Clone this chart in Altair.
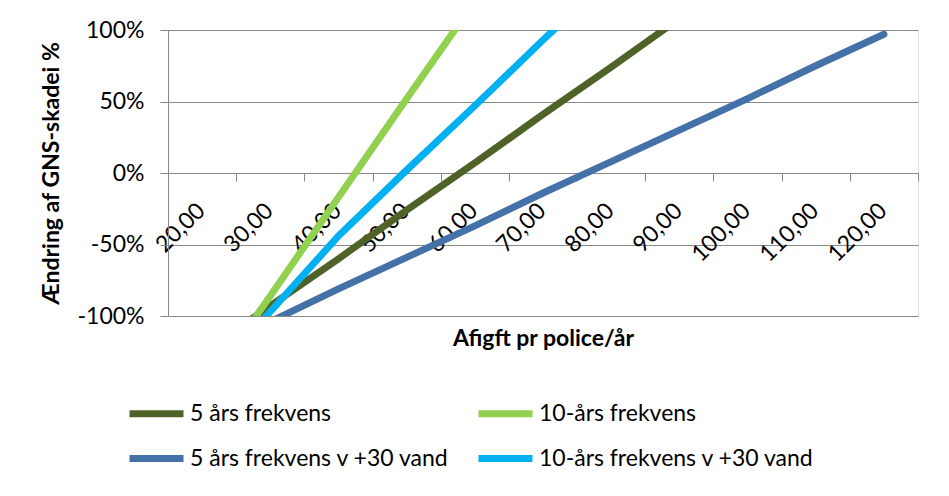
import altair as alt
import pandas as pd

categories = ["20,00", "30,00", "40,00", "50,00", "60,00", "70,00",
              "80,00", "90,00", "100,00", "110,00", "120,00"]

series_names = ["5 års frekvens", "10-års frekvens",
                "5 års frekvens v +30 vand", "10-års frekvens v +30 vand"]
series_colors = ["#4F6228", "#92D050", "#4471A7", "#00B0F0"]

fem_aars = [-126, -93, -60, -26, 7, 41, 74, 108]
ti_aars = [-154, -86, -17, 52, 120]
fem_aars_vand = [-126, -104, -81, -59, -37, -14, 8, 30, 52, 75, 97]
ti_aars_vand = [-150, -97, -44, 2, 47, 93, 138]

y_ticks = [-100, -50, 0, 50, 100]

rows = []
for name, vals in zip(series_names, [fem_aars, ti_aars, fem_aars_vand, ti_aars_vand]):
    for cat, v in zip(categories, vals):
        rows.append({"afgift": cat, "serie": name, "value": v})
df = pd.DataFrame(rows)

FONT = "Lato"
GRID = "#888888"

chart = alt.Chart(df).mark_line(strokeWidth=7, clip=True, strokeCap="round").encode(
    x=alt.X(
        "afgift:O",
        sort=categories,
        bandPosition=0.5,
        scale=alt.Scale(type="band", domain=categories, paddingInner=0, paddingOuter=0),
        axis=alt.Axis(
            title="Afigft pr police/år",
            titleFont=FONT, titleFontSize=23, titleFontWeight="bold", titleColor="black",
            titleX=375, titleY=172, titleAlign="center", titleBaseline="alphabetic",
            labelFont=FONT, labelFontSize=23, labelColor="black",
            labelAngle=-45, labelAlign="right", labelBaseline="top", labelPadding=18,
            labelOffset=-9,
            tickBand="extent", tickSize=8, tickColor=GRID, domainColor=GRID,
            offset=-143, grid=False, labelOverlap=False, zindex=0,
        ),
    ),
    y=alt.Y(
        "value:Q",
        scale=alt.Scale(domain=[-100, 100], nice=False, zero=False),
        axis=alt.Axis(
            title="Ændring af GNS-skadei %",
            titleFont=FONT, titleFontSize=23, titleFontWeight="bold", titleColor="black",
            titleX=-117, titleY=143, titleAngle=-90, titleAlign="center", titleBaseline="middle",
            values=y_ticks, labelExpr="datum.value + '%'",
            labelFont=FONT, labelFontSize=23, labelColor="black", labelPadding=16,
            tickSize=8, tickColor=GRID, domainColor=GRID,
            grid=True, gridColor=GRID, gridWidth=1, zindex=0,
        ),
    ),
    color=alt.Color(
        "serie:N",
        sort=series_names,
        scale=alt.Scale(domain=series_names, range=series_colors),
        legend=alt.Legend(
            title=None, orient="none", legendX=-42, legendY=353, columns=2,
            direction="horizontal",
            symbolType="stroke", symbolSize=2916, symbolStrokeWidth=7,
            labelFont=FONT, labelFontSize=23, labelColor="black", labelOffset=3,
            columnPadding=14, rowPadding=-6, padding=0, labelLimit=0,
        ),
    ),
).properties(
    width=750,
    height=286,
    autosize=alt.AutoSizeParams(type="none"),
    padding={"left": 160, "top": 22, "right": 23, "bottom": 172},
).configure_view(stroke=None).configure(background="white")

chart.save("out.html", embed_options={"renderer": "svg", "actions": False})
